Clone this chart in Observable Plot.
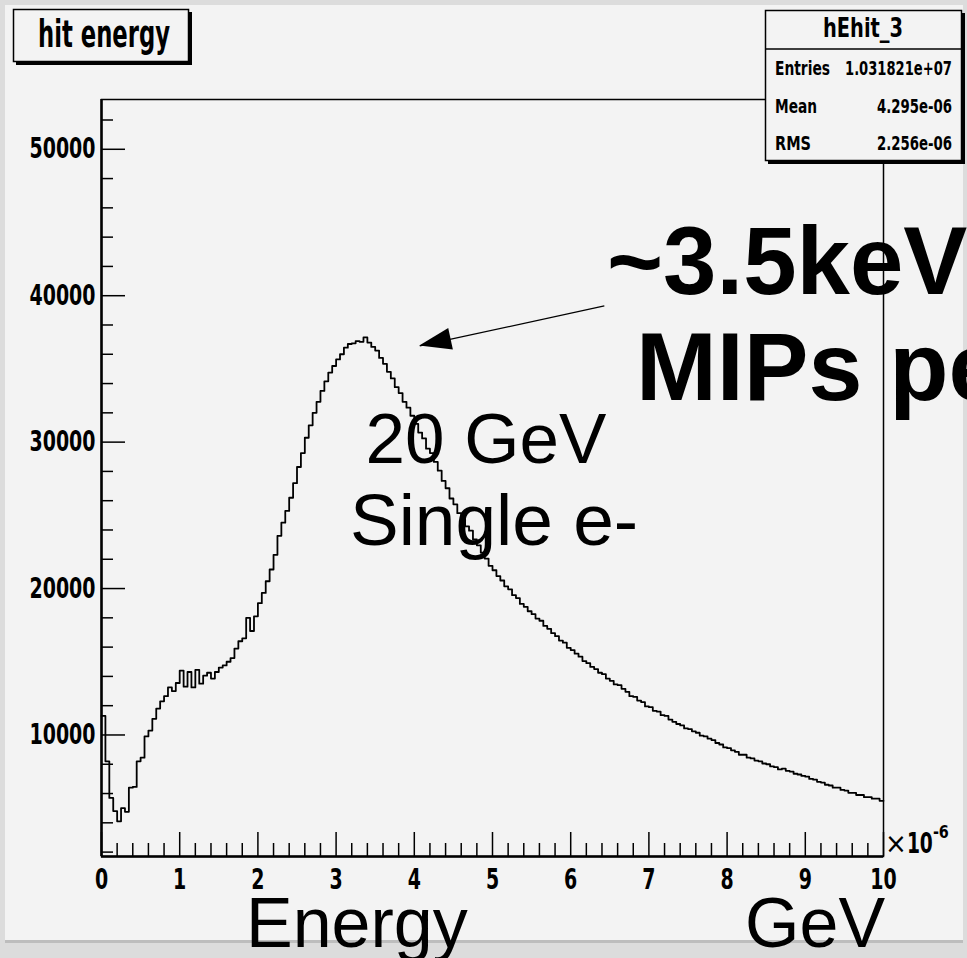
<!DOCTYPE html>
<html><head><meta charset="utf-8">
<script src="https://cdn.jsdelivr.net/npm/d3@7"></script>
<script src="https://cdn.jsdelivr.net/npm/@observablehq/plot@0.6"></script>
<style>
html,body{margin:0;padding:0;overflow:hidden;background:#dcdcdc;}
#chart svg{display:block;}
</style></head><body><div id="chart"></div>
<script>
// ---- data (hit energy histogram, bin width 0.05 ×10^-6 GeV) ----
const binWidth = 0.05;
const counts = [
  11300, 8200, 5700, 4800, 4100, 5000, 4750, 6400, 6450, 8200,
  8450, 9900, 10300, 11100, 11800, 12300, 12650, 13250, 13000, 13550,
  14400, 13300, 14300, 13250, 14450, 13500, 14050, 14250, 13850, 14300,
  14600, 14750, 15000, 15250, 15900, 16400, 16600, 18000, 17100, 18100,
  19000, 19700, 20500, 21300, 22300, 23600, 24500, 25300, 26200, 27200,
  28300, 29250, 30300, 31150, 32000, 32750, 33500, 34150, 34750, 35200,
  35650, 36000, 36450, 36700, 36750, 36900, 36850, 37150, 36800, 36500,
  36250, 35750, 35350, 34800, 34350, 33750, 33350, 32750, 32350, 31800,
  31250, 30650, 30250, 29550, 29250, 28650, 28050, 27350, 26850, 26150,
  25750, 25150, 24750, 24250, 23950, 23350, 22950, 22450, 22050, 21550,
  21250, 20850, 20550, 20150, 19950, 19550, 19350, 18950, 18750, 18450,
  18250, 17950, 17800, 17450, 17250, 16950, 16750, 16450, 16300, 15950,
  15800, 15550, 15350, 15050, 14900, 14650, 14500, 14250, 14150, 13850,
  13700, 13450, 13400, 13150, 12950, 12650, 12600, 12350, 12250, 11950,
  11900, 11650, 11600, 11350, 11300, 11050, 10900, 10750, 10650, 10450,
  10400, 10250, 10150, 9950, 9900, 9750, 9650, 9450, 9350, 9150,
  9100, 8950, 8850, 8650, 8650, 8450, 8400, 8250, 8200, 8050,
  8000, 7850, 7800, 7650, 7700, 7550, 7500, 7350, 7300, 7200,
  7150, 7000, 6950, 6800, 6750, 6600, 6550, 6400, 6400, 6250,
  6200, 6050, 6050, 5900, 5900, 5750, 5750, 5650, 5650, 5500
];
const xTickLabels = [0, 1, 2, 3, 4, 5, 6, 7, 8, 9, 10];
const yTickLabels = [10000, 20000, 30000, 40000, 50000];
const xDomain = [0, 10];
const yDomain = [1700, 53400];
const histTitle = "hit energy";
const statsName = "hEhit_3";
const statsLabels = ["Entries", "Mean", "RMS"];
const statsValues = ["1.031821e+07", "4.295e-06", "2.256e-06"];
const arrowTail = [6.43, 39300];
const arrowTip = [4.07, 36570];

// ---- layout ----
const W = 967, H = 958, mL = 101, mR = 84, mT = 99, mB = 102;
const fw = W - mL - mR, fh = H - mT - mB;
const NARROW = "'Liberation Sans Narrow','Arial Narrow','DejaVu Sans Condensed','Liberation Sans',sans-serif";
const SANS = "'Liberation Sans',Arial,Helvetica,sans-serif";

const bins = counts.map((c, i) => ({x: i * binWidth, y: c}));
bins.push({x: counts.length * binWidth, y: counts[counts.length - 1]});
const xMinor = d3.range(0.2, 10, 0.2).filter(v => Math.abs(v - Math.round(v)) > 1e-6);
const yMinor = d3.range(2000, 53400, 2000).filter(v => v % 10000 !== 0);

const plot = Plot.plot({
  width: W, height: H,
  marginLeft: mL, marginRight: mR, marginTop: mT, marginBottom: mB,
  x: {domain: xDomain, axis: null},
  y: {domain: yDomain, axis: null},
  style: {background: "transparent", overflow: "visible"},
  marks: [
    Plot.frame({stroke: "#000", strokeWidth: 1.5}),
    Plot.ruleX([xDomain[0]], {stroke: "#000", strokeWidth: 2.5}),
    Plot.ruleY([yDomain[0]], {stroke: "#000", strokeWidth: 2.5}),
    Plot.ruleX(xMinor, {stroke: "#000", strokeWidth: 1.5, insetTop: fh - 13}),
    Plot.ruleX(xTickLabels, {stroke: "#000", strokeWidth: 1.5, insetTop: fh - 24}),
    Plot.ruleY(yMinor, {stroke: "#000", strokeWidth: 1.5, insetRight: fw - 12}),
    Plot.ruleY(yTickLabels, {stroke: "#000", strokeWidth: 1.5, insetRight: fw - 24}),
    Plot.line(bins, {x: "x", y: "y", curve: "step-after", stroke: "#000", strokeWidth: 1.8}),
    Plot.text(xTickLabels, {x: d => d, frameAnchor: "bottom", dy: 13, lineAnchor: "top",
      text: d => String(d), fontSize: 28, fontWeight: "bold", fontFamily: NARROW, fill: "#000"}),
    Plot.text(yTickLabels, {y: d => d, frameAnchor: "left", dx: -6, textAnchor: "end", lineAnchor: "middle",
      text: d => String(d), fontSize: 28, fontWeight: "bold", fontFamily: NARROW, fill: "#000"}),
    Plot.link([{x1: arrowTail[0], y1: arrowTail[1], x2: arrowTip[0], y2: arrowTip[1]}],
      {x1: "x1", y1: "y1", x2: "x2", y2: "y2", stroke: "#000", strokeWidth: 1.3})
  ]
});

const svg = d3.select(plot);
// condense tick labels to the narrow look of the reference
svg.selectAll('g[aria-label="text"] text').each(function() {
  const s = this.textContent;
  d3.select(this).attr("textLength", s.length * 13.2).attr("lengthAdjust", "spacingAndGlyphs");
});

// canvas background
svg.insert("rect", ":first-child").attr("x", 5).attr("y", 5).attr("width", 958).attr("height", 936).attr("fill", "#f3f3f3");
svg.insert("rect", ":first-child").attr("x", 0).attr("y", 0).attr("width", W).attr("height", H).attr("fill", "#dcdcdc");
svg.append("rect").attr("x", 5).attr("y", 940).attr("width", 958).attr("height", 3).attr("fill", "#bdbdbd");

// filled arrow head
const xs = d3.scaleLinear(xDomain, [mL, W - mR]);
const ys = d3.scaleLinear(yDomain, [H - mB, mT]);
{
  const tx = xs(arrowTip[0]), ty = ys(arrowTip[1]);
  const sx = xs(arrowTail[0]), sy = ys(arrowTail[1]);
  const ang = Math.atan2(sy - ty, sx - tx);
  const L = 32, Wd = 11;
  const bx = tx + L * Math.cos(ang), by = ty + L * Math.sin(ang);
  const px = -Math.sin(ang), py = Math.cos(ang);
  svg.append("path")
    .attr("d", `M${tx},${ty}L${bx + Wd * px},${by + Wd * py}L${bx - Wd * px},${by - Wd * py}Z`)
    .attr("fill", "#000");
}

const txt = (s, x, y, opts) => {
  const t = svg.append("text").attr("x", x).attr("y", y)
    .attr("font-family", opts.family || NARROW).attr("font-weight", opts.weight || "bold")
    .attr("font-size", opts.size).attr("text-anchor", opts.anchor || "start").attr("fill", "#000").text(s);
  if (opts.len) t.attr("textLength", opts.len).attr("lengthAdjust", "spacingAndGlyphs");
  return t;
};

// x10^-6 exponent label
{
  const t = svg.append("text").attr("x", 885).attr("y", 853).attr("text-anchor", "start")
    .attr("font-family", NARROW).attr("font-weight", "bold").attr("fill", "#000");
  t.append("tspan").attr("font-size", 29).attr("font-weight", "normal").text("\u00d7");
  t.append("tspan").attr("font-size", 29).attr("textLength", 26).attr("lengthAdjust", "spacingAndGlyphs").text("10");
  t.append("tspan").attr("font-size", 17).attr("dy", -15).attr("textLength", 16).attr("lengthAdjust", "spacingAndGlyphs").text("-6");
}

// title box
svg.append("rect").attr("x", 16).attr("y", 12).attr("width", 176).attr("height", 53).attr("fill", "#000");
svg.append("rect").attr("x", 13.5).attr("y", 9.5).attr("width", 175).attr("height", 52)
  .attr("fill", "#f3f3f3").attr("stroke", "#000").attr("stroke-width", 1.5);
txt(histTitle, 104, 47, {size: 37, len: 132, anchor: "middle"});

// stats box
svg.append("rect").attr("x", 768).attr("y", 13).attr("width", 197).attr("height", 151).attr("fill", "#000");
svg.append("rect").attr("x", 765.5).attr("y", 10.5).attr("width", 196).attr("height", 150)
  .attr("fill", "#f3f3f3").attr("stroke", "#000").attr("stroke-width", 1.5);
svg.append("line").attr("x1", 765.5).attr("x2", 961.5).attr("y1", 49).attr("y2", 49).attr("stroke", "#000").attr("stroke-width", 1.5);
txt(statsName, 863, 37, {size: 27, len: 80, anchor: "middle"});
const rowY = [75, 113, 150];
const labW = [55, 42, 36], valW = [107, 75, 75];
statsLabels.forEach((lab, i) => {
  txt(lab, 775, rowY[i], {size: 20, len: labW[i]});
  txt(statsValues[i], 952 - valW[i], rowY[i], {size: 20, len: valW[i]});
});

// slide overlay texts
txt("~3.5keV", 607, 294, {family: SANS, size: 96});
txt("MIPs peak", 636, 400, {family: SANS, size: 97});
txt("20 GeV", 486, 463, {family: SANS, weight: "normal", size: 71, anchor: "middle"});
txt("Single e-", 494, 545, {family: SANS, weight: "normal", size: 73, anchor: "middle"});
txt("Energy", 246, 947, {family: SANS, weight: "normal", size: 70});
txt("GeV", 745, 947, {family: SANS, weight: "normal", size: 70});

document.getElementById("chart").appendChild(plot);
</script></body></html>
